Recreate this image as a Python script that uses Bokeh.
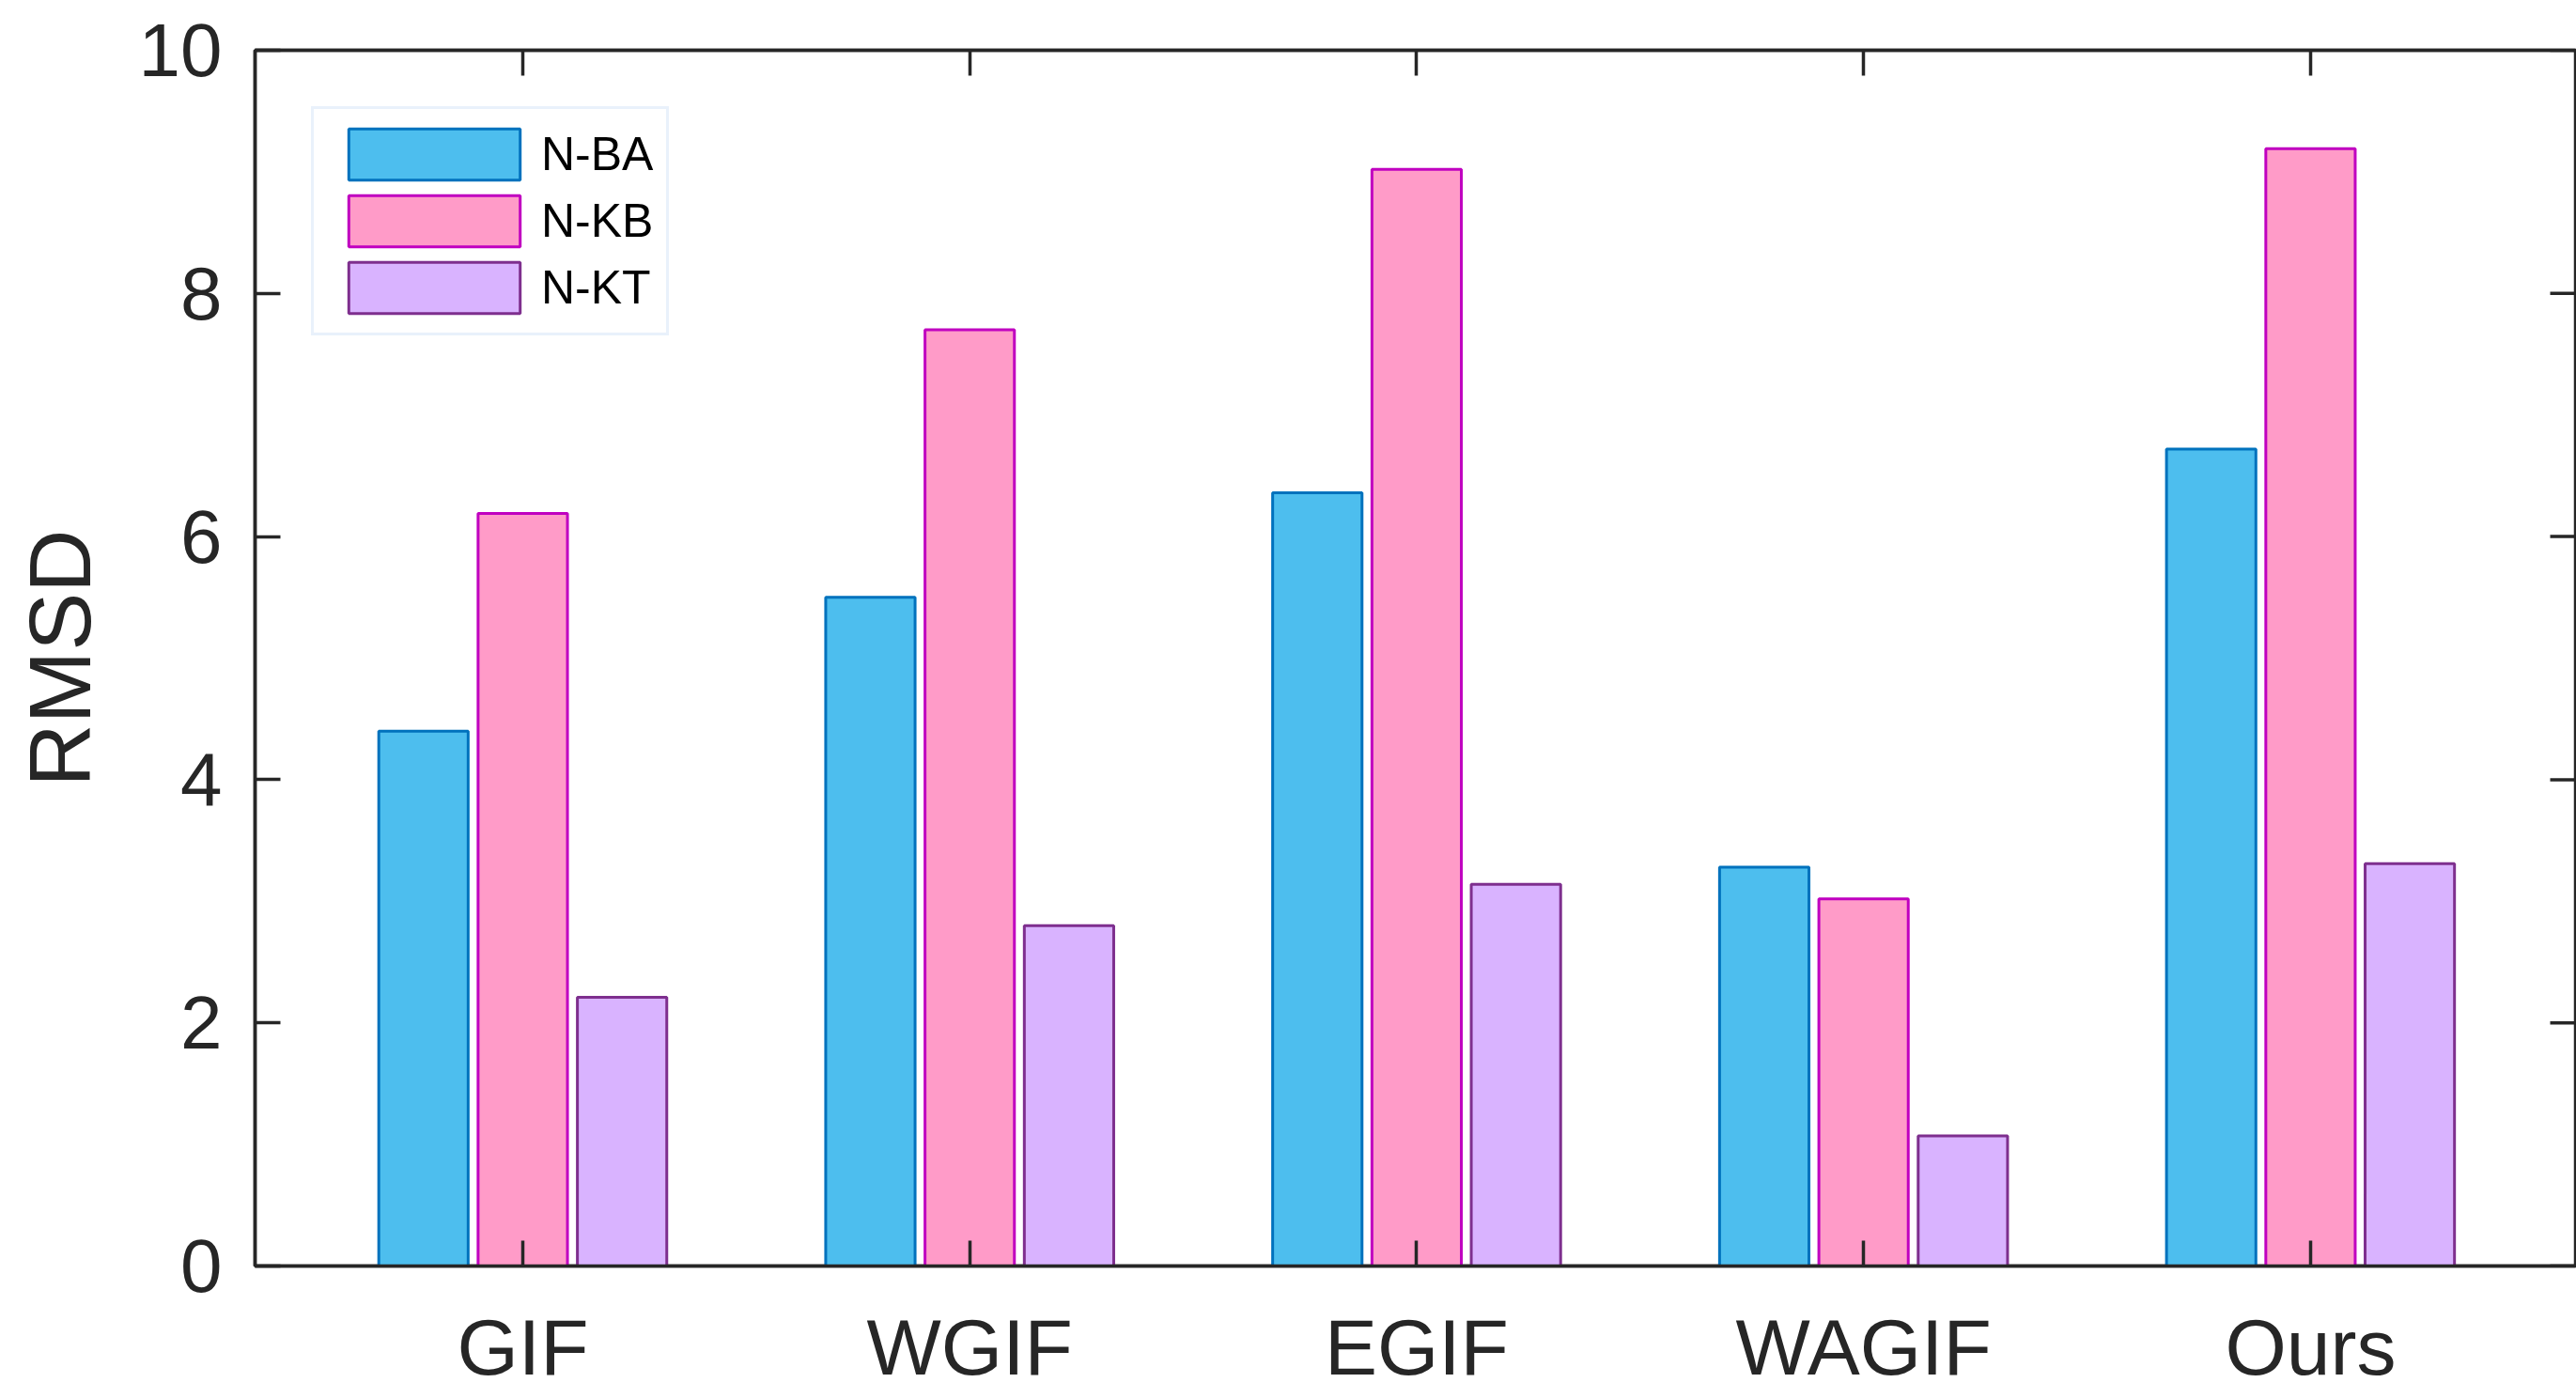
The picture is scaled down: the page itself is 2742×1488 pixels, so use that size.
from bokeh.plotting import figure
from bokeh.models import FixedTicker, LinearAxis, Range1d, ColumnDataSource
from bokeh.embed import file_html
from bokeh.resources import INLINE
from bokeh.transform import dodge

methods = ["GIF", "WGIF", "EGIF", "WAGIF", "Ours"]
n_ba = [4.40, 5.50, 6.36, 3.28, 6.72]
n_kb = [6.19, 7.70, 9.02, 3.02, 9.19]
n_kt = [2.21, 2.80, 3.14, 1.07, 3.31]
series_names = ["N-BA", "N-KB", "N-KT"]
y_ticks = [0, 2, 4, 6, 8, 10]

pos = list(range(1, len(methods) + 1))
src = ColumnDataSource(dict(x=pos, ba=n_ba, kb=n_kb, kt=n_kt))

FONT = "Liberation Sans"
DARK = "#262626"
X0, X1 = 0.401, 5.593

p = figure(width=2742, height=1488, output_backend="svg", toolbar_location=None,
           x_range=Range1d(X0, X1), y_range=Range1d(0, 10),
           min_border_left=271, min_border_top=53, min_border_bottom=141, min_border_right=1)
p.background_fill_color = "white"
p.border_fill_color = "white"
p.xgrid.visible = False
p.ygrid.visible = False
p.outline_line_color = DARK
p.outline_line_width = 3.5

off = 0.2222
w = 0.2
specs = [("ba", -off, "#4DBEEE", "#0072BD"),
         ("kb", 0.0, "#FF9BC8", "#C000C0"),
         ("kt", off, "#D9B3FF", "#7E2F8E")]
for (col, d, fc, lc), name in zip(specs, series_names):
    p.vbar(x=dodge("x", d), top=col, bottom=0, width=w, source=src,
           fill_color=fc, line_color=lc, line_width=3, legend_label=name)

def style_axis(ax):
    ax.axis_line_color = DARK
    ax.axis_line_width = 3.5
    ax.major_tick_line_color = DARK
    ax.major_tick_line_width = 3.5
    ax.major_tick_in = 27
    ax.major_tick_out = 0
    ax.minor_tick_line_color = None
    ax.major_label_text_font = FONT
    ax.major_label_text_color = DARK

# bottom x axis
xa = p.xaxis[0]
xa.ticker = FixedTicker(ticks=pos)
xa.major_label_overrides = {i: m for i, m in zip(pos, methods)}
style_axis(xa)
xa.major_label_text_font_size = "84px"
xa.major_label_standoff = 39

# left y axis
ya = p.yaxis[0]
ya.ticker = FixedTicker(ticks=y_ticks)
style_axis(ya)
ya.major_label_text_font_size = "80px"
ya.major_label_standoff = 35
ya.axis_label = "RMSD"
ya.axis_label_text_font = FONT
ya.axis_label_text_font_size = "93px"
ya.axis_label_text_font_style = "normal"
ya.axis_label_text_color = DARK
ya.axis_label_standoff = 29

# top axis (ticks only)
top = LinearAxis(ticker=FixedTicker(ticks=pos),
                 major_label_overrides={i: "" for i in pos})
style_axis(top)
top.major_label_standoff = 0
top.major_label_text_font_size = "0px"
p.add_layout(top, "above")

# inward ticks on the right edge of the box
tick_len = 27 / 475.7
p.segment(x0=[X1] * len(y_ticks), x1=[X1 - tick_len] * len(y_ticks),
          y0=y_ticks, y1=y_ticks, line_color=DARK, line_width=3.5)

lg = p.legend[0]
lg.location = "top_left"
lg.margin = 60
lg.padding = 14
lg.spacing = 3
lg.glyph_width = 228
lg.glyph_height = 68
lg.label_height = 68
lg.label_standoff = 0
lg.label_text_font = FONT
lg.label_text_font_size = "50px"
lg.label_text_color = "#000000"
lg.border_line_color = "#D3E3F7"
lg.border_line_width = 3
lg.background_fill_color = "white"
lg.background_fill_alpha = 1.0

open("out.html", "w").write(file_html(p, INLINE))
